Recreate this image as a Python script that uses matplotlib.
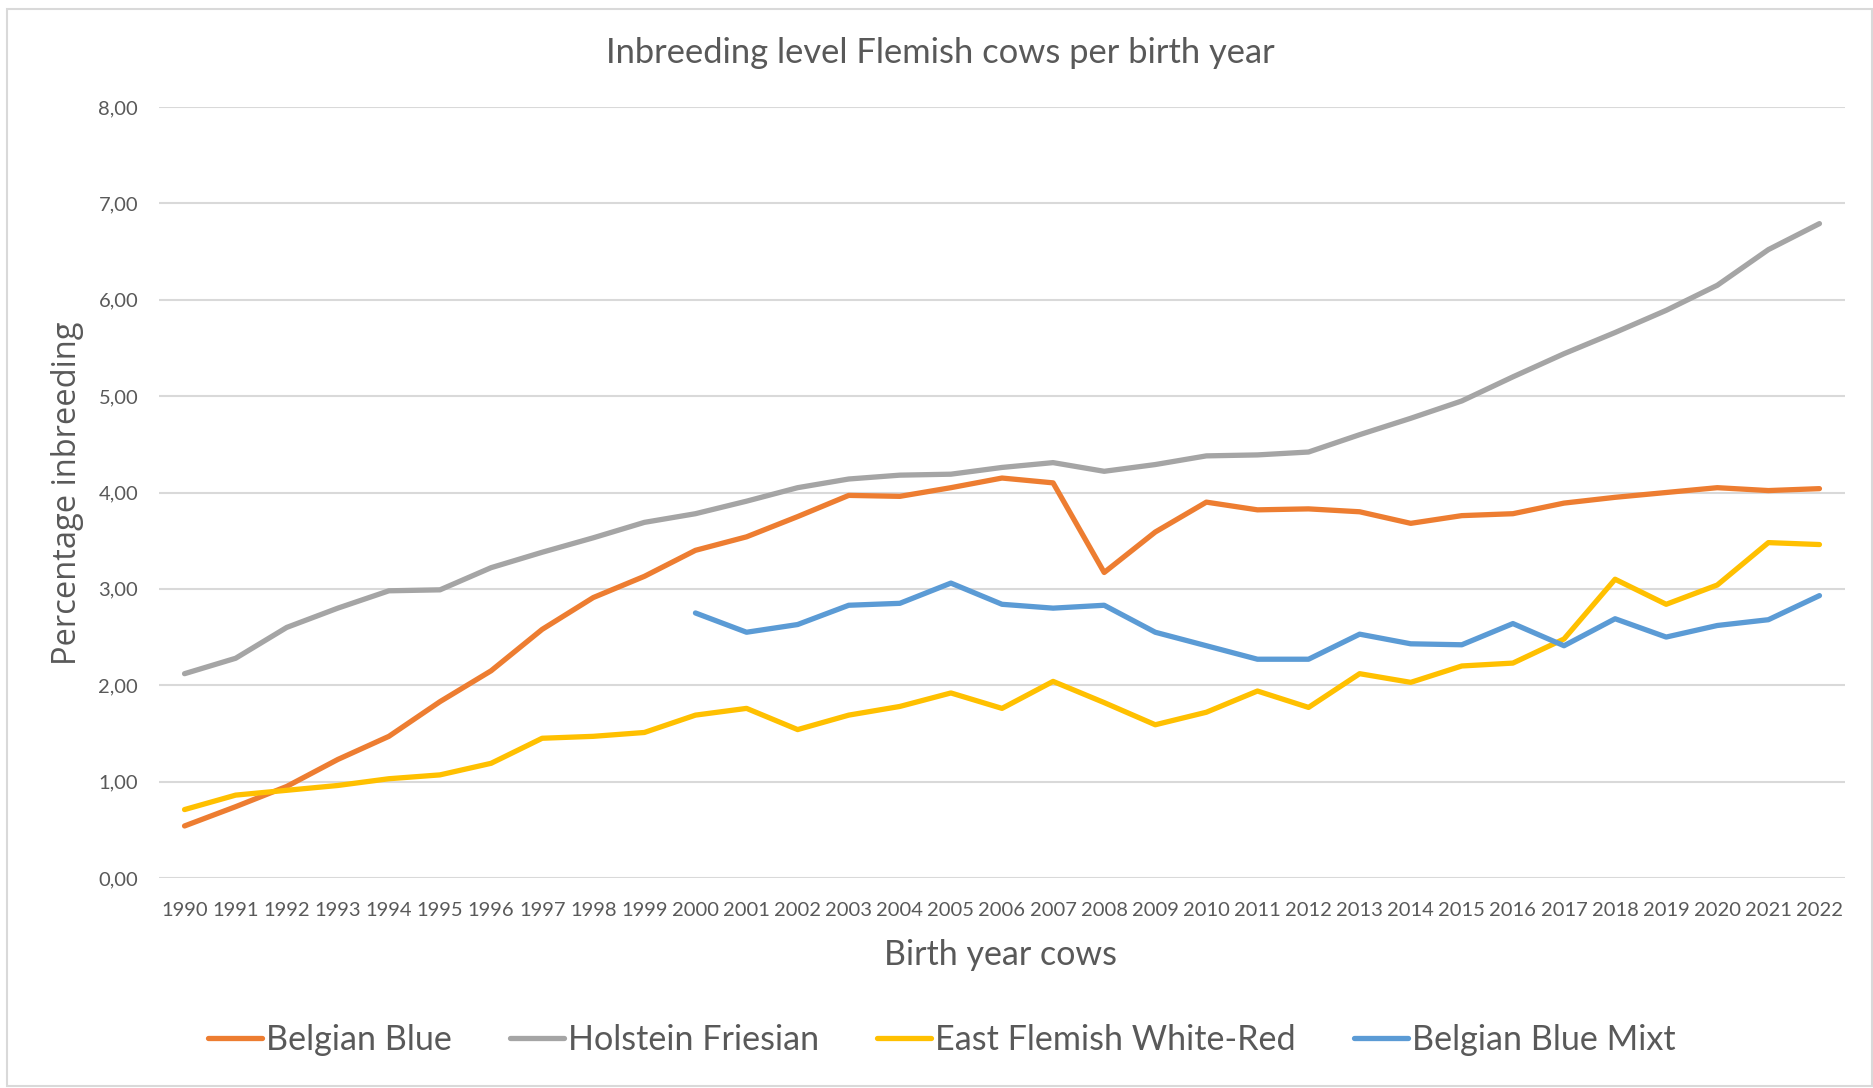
import matplotlib
matplotlib.use('Agg')
import matplotlib.pyplot as plt
from matplotlib.patches import Rectangle
import numpy as np

# birth years on the category axis
years = [str(y) for y in range(1990, 2023)]

# inbreeding percentage per breed
belgian_blue = [0.54, 0.74, 0.95, 1.23, 1.47, 1.83, 2.15, 2.58, 2.91, 3.13, 3.40, 3.54,
                3.75, 3.97, 3.96, 4.05, 4.15, 4.10, 3.17, 3.59, 3.90, 3.82, 3.83, 3.80,
                3.68, 3.76, 3.78, 3.89, 3.95, 4.00, 4.05, 4.02, 4.04]
holstein = [2.12, 2.28, 2.60, 2.80, 2.98, 2.99, 3.22, 3.38, 3.53, 3.69, 3.78, 3.91,
            4.05, 4.14, 4.18, 4.19, 4.26, 4.31, 4.22, 4.29, 4.38, 4.39, 4.42, 4.60,
            4.77, 4.95, 5.20, 5.44, 5.66, 5.89, 6.15, 6.52, 6.79]
east_flemish = [0.71, 0.86, 0.91, 0.96, 1.03, 1.07, 1.19, 1.45, 1.47, 1.51, 1.69, 1.76,
                1.54, 1.69, 1.78, 1.92, 1.76, 2.04, 1.82, 1.59, 1.72, 1.94, 1.77, 2.12,
                2.03, 2.20, 2.23, 2.48, 3.10, 2.84, 3.04, 3.48, 3.46]
# Belgian Blue Mixt starts in 2000
bb_mixt = [None] * 10 + [2.75, 2.55, 2.63, 2.83, 2.85, 3.06, 2.84, 2.80, 2.83, 2.55,
                         2.41, 2.27, 2.27, 2.53, 2.43, 2.42, 2.64, 2.41, 2.69, 2.50,
                         2.62, 2.68, 2.93]

series = [
    ('Belgian Blue', belgian_blue, '#ED7D31'),
    ('Holstein Friesian', holstein, '#A5A5A5'),
    ('East Flemish White-Red', east_flemish, '#FFC000'),
    ('Belgian Blue Mixt', bb_mixt, '#5B9BD5'),
]

yticks = [0, 1, 2, 3, 4, 5, 6, 7, 8]

text_col = '#595959'
grid_col = '#D9D9D9'

fig = plt.figure(figsize=(18.74, 10.88), dpi=100)
ax = fig.add_axes([159 / 1874, 1 - 878 / 1088, 1686 / 1874, 771 / 1088])

x = np.arange(len(years))
for name, vals, col in series:
    y = np.array([np.nan if v is None else v for v in vals], dtype=float)
    ax.plot(x, y, color=col, lw=3.8, label=name,
            solid_capstyle='round', solid_joinstyle='round')

ax.set_xlim(-0.5, len(years) - 0.5)
ax.set_ylim(0, 8)
ax.set_xticks(x)
ax.set_xticklabels(years)
ax.set_yticks(yticks)
ax.set_yticklabels([f'{v:.2f}'.replace('.', ',') for v in yticks])
ax.tick_params(axis='both', length=0, labelsize=14.5, labelcolor=text_col)
ax.tick_params(axis='y', pad=15)
ax.tick_params(axis='x', pad=17.5)
for lab in ax.get_xticklabels() + ax.get_yticklabels():
    lab.set_family('Lato')

ax.grid(axis='y', color=grid_col, lw=1.5)
ax.set_axisbelow(True)
for s in ax.spines.values():
    s.set_visible(False)

fig.text(940 / 1874, 1 - 53 / 1088, 'Inbreeding level Flemish cows per birth year',
         ha='center', va='center', fontsize=24.8, color=text_col, family='Lato')
fig.text(1001 / 1874, 1 - 955 / 1088, 'Birth year cows',
         ha='center', va='center', fontsize=24.5, color=text_col, family='Lato')
fig.text(68 / 1874, 1 - 493 / 1088, 'Percentage inbreeding', rotation=90,
         ha='center', va='center', fontsize=23.5, color=text_col, family='Open Sans')

fig.legend(loc='center', bbox_to_anchor=(942 / 1874, 1 - 1040 / 1088), ncol=4,
           frameon=False, prop={'family': 'Lato', 'size': 24.6}, labelcolor=text_col,
           handlelength=1.58, handletextpad=0.12, columnspacing=1.7)

fig.patches.append(Rectangle((7 / 1874, 1 - 1086 / 1088), 1865 / 1874, 1077 / 1088,
                             transform=fig.transFigure, fill=False,
                             edgecolor=grid_col, lw=1.5))

fig.savefig('out.png', dpi=100, facecolor='white')
